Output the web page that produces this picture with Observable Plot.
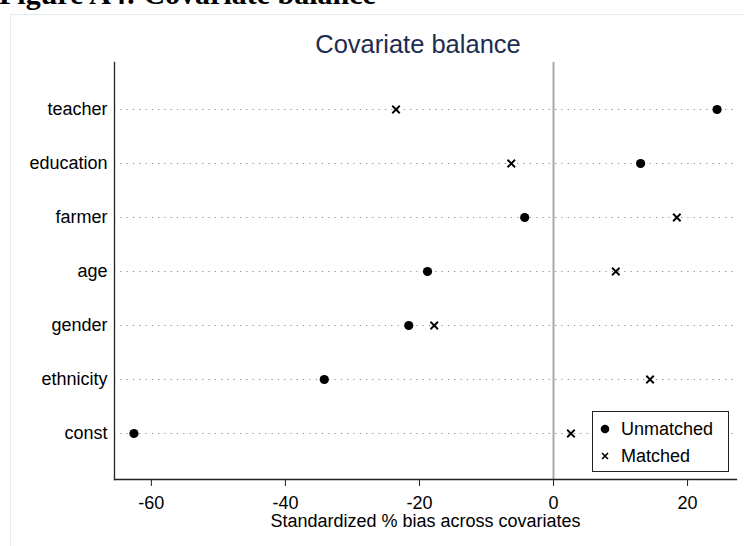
<!DOCTYPE html>
<html>
<head>
<meta charset="utf-8">
<script src="https://cdn.jsdelivr.net/npm/d3@7"></script>
<script src="https://cdn.jsdelivr.net/npm/@observablehq/plot@0.6"></script>
<style>
  html, body { margin: 0; padding: 0; background: #fff; }
  #wrap { position: relative; width: 744px; height: 546px; overflow: hidden; background: #fff;
          font-family: "Liberation Sans", Arial, sans-serif; }
  #header { position: absolute; left: -1px; top: -21px; font-family: "Liberation Serif", "Times New Roman", serif;
            font-weight: bold; font-size: 30px; color: #000; white-space: nowrap; line-height: 30px; }
  #frame { position: absolute; left: 10px; top: 14px; width: 760px; height: 560px;
           border-left: 1px solid #e4eaea; border-top: 1px solid #e4eaea; }
  #title { position: absolute; left: 0; width: 836px; top: 30px; text-align: center; font-size: 25.5px;
           color: #1e2c4f; line-height: 28px; }
  #chart { position: absolute; left: 0; top: 0; }
  #legend { position: absolute; left: 592px; top: 411px; width: 135px; height: 59px;
            border: 1.3px solid #222; background: #fff; font-size: 18px; color: #000; }
  .item { position: absolute; left: 0; height: 24px; line-height: 24px; white-space: nowrap; }
  .item svg { position: absolute; left: 5px; top: 5px; }
  .item span { position: absolute; left: 28px; top: 0; }
</style>
</head>
<body>
<div id="wrap">
  <div id="frame"></div>
  <div id="header"></div>
  <div id="title"></div>
  <div id="chart"></div>
  <div id="legend"></div>
</div>
<script>
const headerText = "Figure A4: Covariate balance";
const titleText = "Covariate balance";
const xLabel = "Standardized % bias across covariates";
const covariates = ["teacher", "education", "farmer", "age", "gender", "ethnicity", "const"];
const unmatched = [24.4, 13.0, -4.3, -18.8, -21.6, -34.2, -62.6];
const matched = [-23.5, -6.3, 18.4, 9.3, -17.8, 14.4, 2.6];
const xTicks = [-60, -40, -20, 0, 20];
const seriesNames = ["Unmatched", "Matched"];

const unmatchedData = covariates.map((c, i) => ({covariate: c, bias: unmatched[i]}));
const matchedData = covariates.map((c, i) => ({covariate: c, bias: matched[i]}));

document.getElementById("header").textContent = headerText;
document.getElementById("title").textContent = titleText;

const chart = Plot.plot({
  width: 744,
  height: 546,
  marginTop: 62,
  marginBottom: 67,
  marginLeft: 114,
  marginRight: 8,
  style: {fontFamily: "'Liberation Sans', Arial, sans-serif", fontSize: "18px", color: "#000", background: "transparent", overflow: "visible"},
  x: {domain: [-65.5, 27.3]},
  y: {type: "point", domain: covariates, padding: 0.85},
  marks: [
    Plot.gridY(covariates, {stroke: "#8a8a8a", strokeOpacity: 1, strokeWidth: 1, strokeDasharray: "1.2,5.1"}),
    Plot.ruleX([0], {stroke: "#a9a9a9", strokeWidth: 2}),
    Plot.frame({anchor: "left", stroke: "#222", strokeWidth: 1.3}),
    Plot.frame({anchor: "bottom", stroke: "#222", strokeWidth: 1.3}),
    Plot.axisX({ticks: xTicks, tickFormat: d => String(d), tickSize: 7, tickPadding: 10, fontSize: 18, label: null, stroke: "#222"}),
    Plot.axisY({tickSize: 0, tickPadding: 7, fontSize: 18, label: null}),
    Plot.text([xLabel], {frameAnchor: "bottom", lineAnchor: "top", dy: 35, fontSize: 18, fill: "#000"}),
    Plot.dot(unmatchedData, {x: "bias", y: "covariate", r: 4.6, fill: "#000", stroke: null}),
    Plot.dot(matchedData, {x: "bias", y: "covariate", symbol: "times", r: 3.5, stroke: "#000", strokeWidth: 1.8})
  ]
});
document.getElementById("chart").appendChild(chart);

// legend
const legend = document.getElementById("legend");
const markers = [
  '<svg width="14" height="14"><circle cx="7" cy="7" r="4.3" fill="#000"/></svg>',
  '<svg width="14" height="14"><path d="M4,4L10,10M10,4L4,10" stroke="#000" stroke-width="1.6"/></svg>'
];
seriesNames.forEach((name, i) => {
  const d = document.createElement("div");
  d.className = "item";
  d.style.top = (i === 0 ? 5 : 32) + "px";
  d.innerHTML = markers[i] + "<span></span>";
  d.querySelector("span").textContent = name;
  legend.appendChild(d);
});
</script>
</body>
</html>
